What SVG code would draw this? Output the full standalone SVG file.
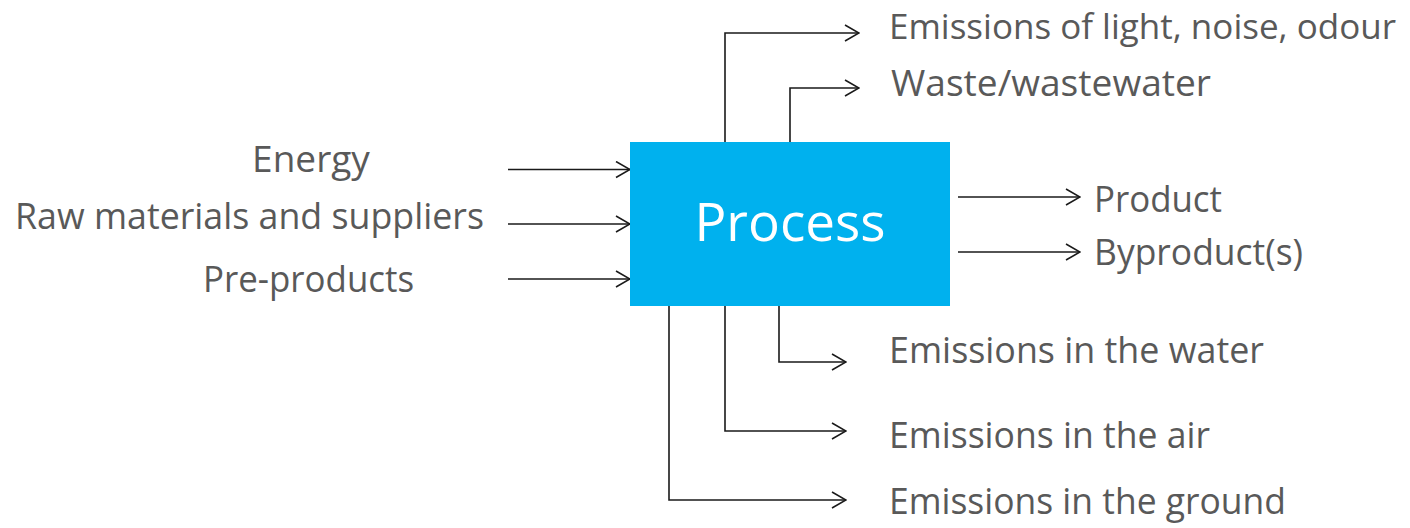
<svg xmlns="http://www.w3.org/2000/svg" width="1410" height="528" viewBox="0 0 1410 528">
  <style>
    .lbl { font-family: "Open Sans", "Noto Sans", "Liberation Sans", sans-serif; font-size: 37px; fill: #595959; }
    .lbl.wide { font-size: 35px; }
    .title { font-family: "Open Sans", "Noto Sans", "Liberation Sans", sans-serif; font-size: 53px; fill: #ffffff; }
    .wire { fill: none; stroke: #1a1a1a; stroke-width: 1.6; marker-end: url(#chev); }
  </style>
  <defs>
    <marker id="chev" viewBox="0 0 16 18" refX="15" refY="9" markerWidth="16" markerHeight="18" markerUnits="userSpaceOnUse" orient="auto">
      <path d="M1,1 L15,9 L1,17" fill="none" stroke="#1a1a1a" stroke-width="1.6"/>
    </marker>
  </defs>
  <rect width="1410" height="528" fill="#ffffff"/>

  <g id="connectors">
    <!-- inputs -->
    <path class="wire" d="M508,169.5 H630"/>
    <path class="wire" d="M508,224 H630"/>
    <path class="wire" d="M508,279 H630"/>
    <!-- upward outputs -->
    <path class="wire" d="M725,142 V33 H859"/>
    <path class="wire" d="M790,142 V88 H859"/>
    <!-- right outputs -->
    <path class="wire" d="M958,197 H1080"/>
    <path class="wire" d="M958,252 H1080"/>
    <!-- downward outputs -->
    <path class="wire" d="M779,306 V362 H846"/>
    <path class="wire" d="M725,306 V431 H846"/>
    <path class="wire" d="M669,306 V500 H846"/>
  </g>

  <g id="process">
    <rect x="630" y="142" width="320" height="164" fill="#00b1ee"/>
    <text class="title" x="790" y="241" text-anchor="middle">Process</text>
  </g>

  <g id="energy"><text class="lbl" x="311" y="172" text-anchor="middle">Energy</text></g>
  <g id="raw-materials"><text class="lbl" x="15" y="229" textLength="469" lengthAdjust="spacingAndGlyphs">Raw materials and suppliers</text></g>
  <g id="pre-products"><text class="lbl" x="203" y="292" textLength="211" lengthAdjust="spacingAndGlyphs">Pre-products</text></g>

  <g id="emissions-light"><text class="lbl wide" x="889" y="39">Emissions of light, noise, odour</text></g>
  <g id="waste"><text class="lbl" x="891" y="96" textLength="320" lengthAdjust="spacingAndGlyphs">Waste/wastewater</text></g>
  <g id="product"><text class="lbl" x="1094" y="212" textLength="128" lengthAdjust="spacingAndGlyphs">Product</text></g>
  <g id="byproduct"><text class="lbl" x="1094" y="265" textLength="209" lengthAdjust="spacingAndGlyphs">Byproduct(s)</text></g>
  <g id="emissions-water"><text class="lbl" x="889" y="363" textLength="375" lengthAdjust="spacingAndGlyphs">Emissions in the water</text></g>
  <g id="emissions-air"><text class="lbl" x="889" y="448" textLength="321" lengthAdjust="spacingAndGlyphs">Emissions in the air</text></g>
  <g id="emissions-ground"><text class="lbl" x="889" y="514" textLength="397" lengthAdjust="spacingAndGlyphs">Emissions in the ground</text></g>
</svg>
